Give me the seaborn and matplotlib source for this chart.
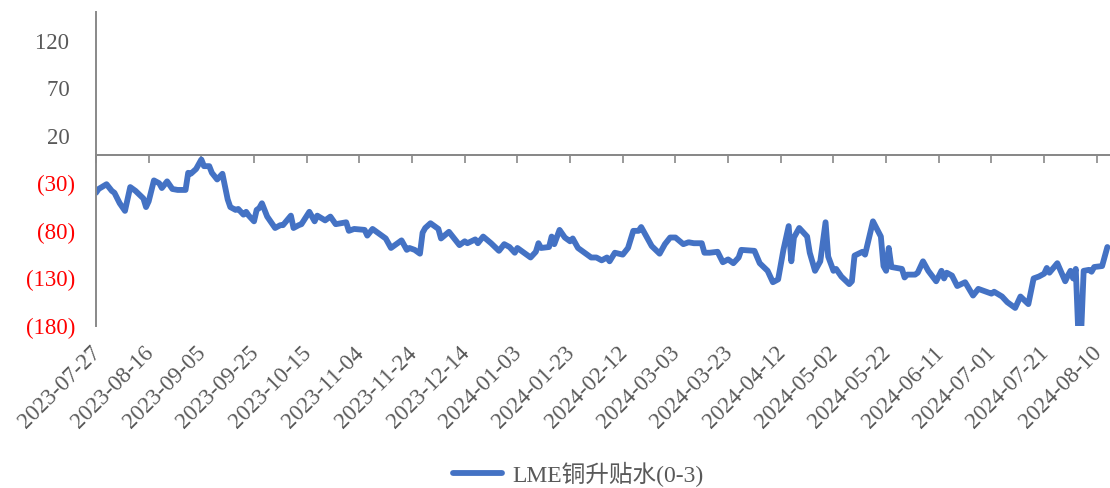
import matplotlib
matplotlib.use("Agg")
import matplotlib.pyplot as plt
import matplotlib.dates as mdates
import matplotlib.transforms as mtransforms
from matplotlib.ticker import FixedLocator, NullFormatter
import pandas as pd
import seaborn as sns

# LME copper 0-3 month spread (USD/t), daily observations
dates = [
    "2023-07-27", "2023-07-28", "2023-07-31", "2023-08-02", "2023-08-03", "2023-08-05",
    "2023-08-07", "2023-08-09", "2023-08-11", "2023-08-14", "2023-08-15", "2023-08-16",
    "2023-08-18", "2023-08-20", "2023-08-21", "2023-08-23", "2023-08-25", "2023-08-27",
    "2023-08-30", "2023-08-31", "2023-09-01", "2023-09-03", "2023-09-05", "2023-09-06",
    "2023-09-08", "2023-09-09", "2023-09-11", "2023-09-13", "2023-09-15", "2023-09-16",
    "2023-09-18", "2023-09-19", "2023-09-21", "2023-09-22", "2023-09-23", "2023-09-25",
    "2023-09-26", "2023-09-27", "2023-09-28", "2023-09-30", "2023-10-03", "2023-10-05",
    "2023-10-06", "2023-10-09", "2023-10-10", "2023-10-12", "2023-10-13", "2023-10-16",
    "2023-10-18", "2023-10-19", "2023-10-22", "2023-10-24", "2023-10-26", "2023-10-30",
    "2023-10-31", "2023-11-02", "2023-11-06", "2023-11-07", "2023-11-09", "2023-11-12",
    "2023-11-14", "2023-11-16", "2023-11-20", "2023-11-22", "2023-11-23", "2023-11-25",
    "2023-11-27", "2023-11-28", "2023-11-29", "2023-12-01", "2023-12-04", "2023-12-05",
    "2023-12-08", "2023-12-12", "2023-12-14", "2023-12-15", "2023-12-18", "2023-12-19",
    "2023-12-21", "2023-12-24", "2023-12-27", "2023-12-29", "2023-12-31", "2024-01-02",
    "2024-01-03", "2024-01-05", "2024-01-08", "2024-01-10", "2024-01-11", "2024-01-12",
    "2024-01-15", "2024-01-16", "2024-01-17", "2024-01-19", "2024-01-21", "2024-01-23",
    "2024-01-24", "2024-01-26", "2024-01-29", "2024-01-31", "2024-02-02", "2024-02-04",
    "2024-02-06", "2024-02-07", "2024-02-09", "2024-02-12", "2024-02-14", "2024-02-16",
    "2024-02-18", "2024-02-19", "2024-02-21", "2024-02-23", "2024-02-26", "2024-02-28",
    "2024-03-01", "2024-03-03", "2024-03-06", "2024-03-08", "2024-03-10", "2024-03-13",
    "2024-03-14", "2024-03-16", "2024-03-19", "2024-03-21", "2024-03-23", "2024-03-25",
    "2024-03-27", "2024-03-28", "2024-04-02", "2024-04-04", "2024-04-07", "2024-04-09",
    "2024-04-11", "2024-04-13", "2024-04-15", "2024-04-16", "2024-04-17", "2024-04-19",
    "2024-04-22", "2024-04-23", "2024-04-25", "2024-04-27", "2024-04-29", "2024-04-30",
    "2024-05-02", "2024-05-03", "2024-05-05", "2024-05-08", "2024-05-09", "2024-05-10",
    "2024-05-13", "2024-05-14", "2024-05-17", "2024-05-20", "2024-05-21", "2024-05-22",
    "2024-05-23", "2024-05-24", "2024-05-28", "2024-05-29", "2024-05-30", "2024-06-02",
    "2024-06-03", "2024-06-05", "2024-06-07", "2024-06-10", "2024-06-12", "2024-06-13",
    "2024-06-14", "2024-06-16", "2024-06-18", "2024-06-21", "2024-06-24", "2024-06-26",
    "2024-06-28", "2024-07-01", "2024-07-02", "2024-07-05", "2024-07-07", "2024-07-10",
    "2024-07-12", "2024-07-15", "2024-07-17", "2024-07-19", "2024-07-21", "2024-07-22",
    "2024-07-23", "2024-07-26", "2024-07-29", "2024-07-30", "2024-07-31", "2024-08-01",
    "2024-08-02", "2024-08-03", "2024-08-04", "2024-08-05", "2024-08-07", "2024-08-08",
    "2024-08-09", "2024-08-12", "2024-08-14",
]

spread = [
    -40, -36, -31, -38, -40, -51,
    -59, -34, -38, -46, -55, -49,
    -27, -30, -35, -28, -36, -37,
    -37, -19, -20, -15, -5, -12,
    -12, -19, -26, -20, -47, -55,
    -58, -57, -63, -60, -64, -70,
    -58, -56, -51, -65, -77, -74,
    -74, -64, -77, -74, -73, -60,
    -70, -64, -69, -65, -73, -71,
    -80, -78, -79, -85, -78, -84,
    -88, -98, -90, -100, -98, -100,
    -104, -82, -77, -72, -78, -88,
    -81, -95, -91, -93, -89, -93,
    -86, -93, -101, -94, -97, -103,
    -98, -102, -108, -102, -93, -98,
    -97, -86, -94, -79, -87, -91,
    -88, -98, -104, -108, -108, -111,
    -108, -112, -103, -105, -98, -80,
    -80, -76, -86, -96, -104, -94,
    -87, -87, -94, -92, -93, -93,
    -103, -103, -102, -113, -110, -114,
    -108, -100, -101, -114, -122, -134,
    -131, -100, -75, -112, -87, -77,
    -86, -103, -122, -112, -71, -107,
    -122, -120, -128, -136, -133, -106,
    -102, -105, -70, -86, -117, -122,
    -98, -118, -120, -129, -126, -126,
    -124, -112, -122, -133, -122, -130,
    -124, -127, -138, -134, -148, -141,
    -143, -146, -144, -149, -155, -161,
    -149, -157, -130, -128, -125, -119,
    -124, -114, -133, -127, -122, -130,
    -120, -190, -190, -122, -121, -123,
    -118, -117, -97,
]

tick_dates = [
    "2023-07-27", "2023-08-16", "2023-09-05", "2023-09-25", "2023-10-15",
    "2023-11-04", "2023-11-24", "2023-12-14", "2024-01-03", "2024-01-23",
    "2024-02-12", "2024-03-03", "2024-03-23", "2024-04-12", "2024-05-02",
    "2024-05-22", "2024-06-11", "2024-07-01", "2024-07-21", "2024-08-10",
]
y_ticks = [120, 70, 20, -30, -80, -130, -180]
series_name = "LME铜升贴水(0-3)"

LINE = "#4472C4"
AXIS = "#898989"
TEXT = "#595959"
NEG = "#FF0000"
FS = 16.5

sns.set_style("white")
plt.rcParams["font.family"] = ["Liberation Serif", "Noto Sans CJK SC"]

df = pd.DataFrame({"date": pd.to_datetime(dates), "value": spread})

fig = plt.figure(figsize=(11.10, 4.88), dpi=100)
ax = fig.add_axes([96 / 1110, 1 - 326 / 488, 1 - 96 / 1110, (326 - 12) / 488])

sns.lineplot(data=df, x="date", y="value", ax=ax, color=LINE, linewidth=4.2,
             label=series_name, legend=False)
for ln in ax.lines:
    ln.set_solid_joinstyle("round")
    ln.set_solid_capstyle("round")

ymin, ymax = -180, 150
ax.set_ylim(ymin, ymax)
ax.set_xlim(pd.Timestamp("2023-07-27"), pd.Timestamp("2024-08-15"))

# y axis: accounting style, negatives in parentheses and red
ax.set_yticks(y_ticks)
ylabels = [f"{v} " if v >= 0 else f"({abs(v)})" for v in y_ticks]
ax.set_yticklabels(ylabels)
for lab, v in zip(ax.get_yticklabels(), y_ticks):
    lab.set_color(TEXT if v >= 0 else NEG)
ax.tick_params(axis="y", direction="out", length=5, width=1.2, color=AXIS,
               labelsize=FS, pad=10)

# x axis labels sit at the bottom of the plot area
tick_ts = pd.to_datetime(tick_dates)
ax.set_xticks(tick_ts)
ax.set_xticklabels(tick_dates, rotation=45, ha="right", va="top",
                   rotation_mode="anchor")
ax.tick_params(axis="x", length=0, labelsize=FS, labelcolor=TEXT, pad=12)
shift = mtransforms.ScaledTranslation(-6 / 100, 0, fig.dpi_scale_trans)
for lab in ax.get_xticklabels():
    lab.set_transform(lab.get_transform() + shift)
ax.set_xlabel("")
ax.set_ylabel("")

for side in ("top", "right", "bottom"):
    ax.spines[side].set_visible(False)
ax.spines["left"].set_color(AXIS)
ax.spines["left"].set_linewidth(1.4)

# category axis line crossing at zero, tick marks hanging below it
zero_frac = (0 - ymin) / (ymax - ymin)
sec = ax.secondary_xaxis(zero_frac)
sec.xaxis.set_major_locator(FixedLocator(mdates.date2num(tick_ts)))
sec.xaxis.set_major_formatter(NullFormatter())
sec.xaxis.set_ticks_position("top")
sec.tick_params(axis="x", direction="in", length=6, width=1.2, color=AXIS)
for side in ("top", "bottom"):
    sec.spines[side].set_visible(True)
    sec.spines[side].set_color(AXIS)
    sec.spines[side].set_linewidth(1.4)
for side in ("left", "right"):
    sec.spines[side].set_visible(False)

handles, labels = ax.get_legend_handles_labels()
fig.legend(handles, labels, loc="center", bbox_to_anchor=(578 / 1110, 1 - 474 / 488),
           frameon=False, fontsize=17, handlelength=2.1, handletextpad=0.4,
           borderpad=0.2, labelcolor=TEXT)

fig.savefig("out.png", dpi=100)
